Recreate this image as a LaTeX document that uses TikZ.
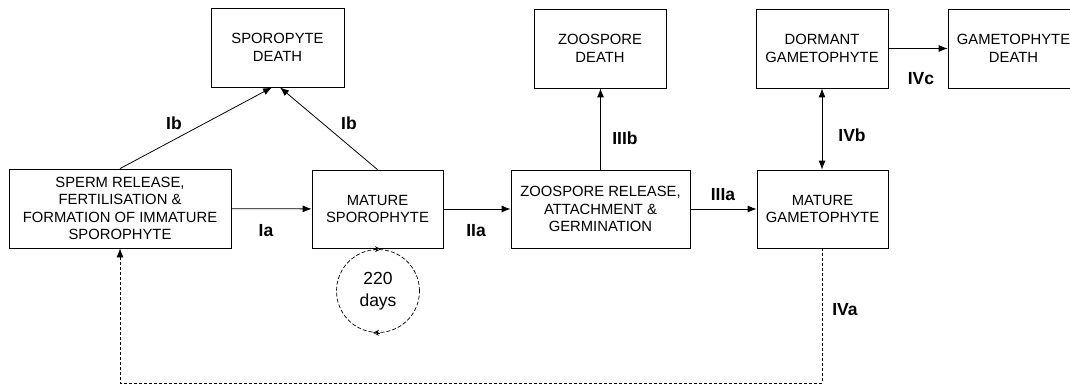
\documentclass[tikz,border=0pt]{standalone}
\usepackage{fontspec}
\setmainfont{Liberation Sans}
\usetikzlibrary{arrows.meta}
\begin{document}
\begin{tikzpicture}[x=1pt,y=-1pt,
  box/.style={draw, line width=0.8pt, inner sep=0pt, align=center,
    font=\fontsize{14.8}{17.6}\selectfont},
  arr/.style={-{Latex[length=9pt,width=7pt]}, line width=0.8pt},
  dblarr/.style={{Latex[length=9pt,width=7pt]}-{Latex[length=9pt,width=7pt]}, line width=0.8pt},
  lab/.style={font=\fontsize{17.5}{19}\selectfont\bfseries, inner sep=0pt},
  dashline/.style={dash pattern=on 3pt off 2pt, line width=0.7pt},
  cyclemark/.style={solid, line width=0.6pt, -{Stealth[open,length=6pt,width=6pt]}}
]
\useasboundingbox (0,0) rectangle (1070,385);

% boxes
\node[box, minimum width=133pt, minimum height=79pt] (sd) at (277.5,47.5) {SPOROPYTE\\DEATH};
\node[box, minimum width=222pt, minimum height=79pt] (sp) at (120,208.5) {SPERM RELEASE,\\FERTILISATION \&\\FORMATION OF IMMATURE\\SPOROPHYTE};
\node[box, minimum width=131pt, minimum height=78pt] (ms) at (377.5,209) {MATURE\\SPOROPHYTE};
\node[box, minimum width=132pt, minimum height=79pt] (zd) at (600,48.5) {ZOOSPORE\\DEATH};
\node[box, minimum width=179pt, minimum height=78pt] (zr) at (600.5,209) {ZOOSPORE RELEASE,\\ATTACHMENT \&\\GERMINATION};
\node[box, minimum width=131pt, minimum height=78pt] (mg) at (822.5,209) {MATURE\\GAMETOPHYTE};
\node[box, minimum width=132pt, minimum height=79pt] (dg) at (822,48.5) {DORMANT\\GAMETOPHYTE};
\node[box, minimum width=131pt, minimum height=79pt] (gd) at (1013.5,48.5) {GAMETOPHYTE\\DEATH};

% cycle circle
\node[draw, circle, dash pattern=on 4pt off 2pt, line width=0.7pt, minimum size=83pt, inner sep=0pt,
  align=center, font=\fontsize{17.5}{22}\selectfont] (cyc) at (378,291) {220\\days};
\draw[cyclemark] ([xshift=-4pt]cyc.north) -- ([xshift=3pt]cyc.north);
\draw[cyclemark] ([xshift=2pt]cyc.south) -- ([xshift=-5pt]cyc.south);

% connectors
\draw[arr] (sp) -- (ms);
\draw[arr] (ms) -- (zr);
\draw[arr] (zr) -- (mg);
\draw[arr] (dg) -- (gd);
\draw[arr] (zr.north) -- (zr.north |- zd.south);
\draw[dblarr] (dg.south) -- (dg.south |- mg.north);
\draw[arr] (sp.north) -- ([xshift=-5.5pt]sd.south);
\draw[arr] (ms.north) -- ([xshift=2.5pt]sd.south);
\coordinate (lowR) at (822.5,383);
\draw[dashline, -{Latex[length=9pt,width=7pt]}] (mg.south) -- (lowR) -| (sp.south);

% labels
\node[lab] (lIb1) at (174,123) {Ib};
\node[lab] (lIb2) at (349,123) {Ib};
\node[lab] (lIa) at (266,231) {Ia};
\node[lab] (lIIa) at (476,231) {IIa};
\node[lab] (lIIIa) at (723,195) {IIIa};
\node[lab] (lIIIb) at (625,138) {IIIb};
\node[lab] (lIVb) at (852,135) {IVb};
\node[lab] (lIVc) at (921,79) {IVc};
\node[lab] (lIVa) at (845,310) {IVa};
\end{tikzpicture}
\end{document}
